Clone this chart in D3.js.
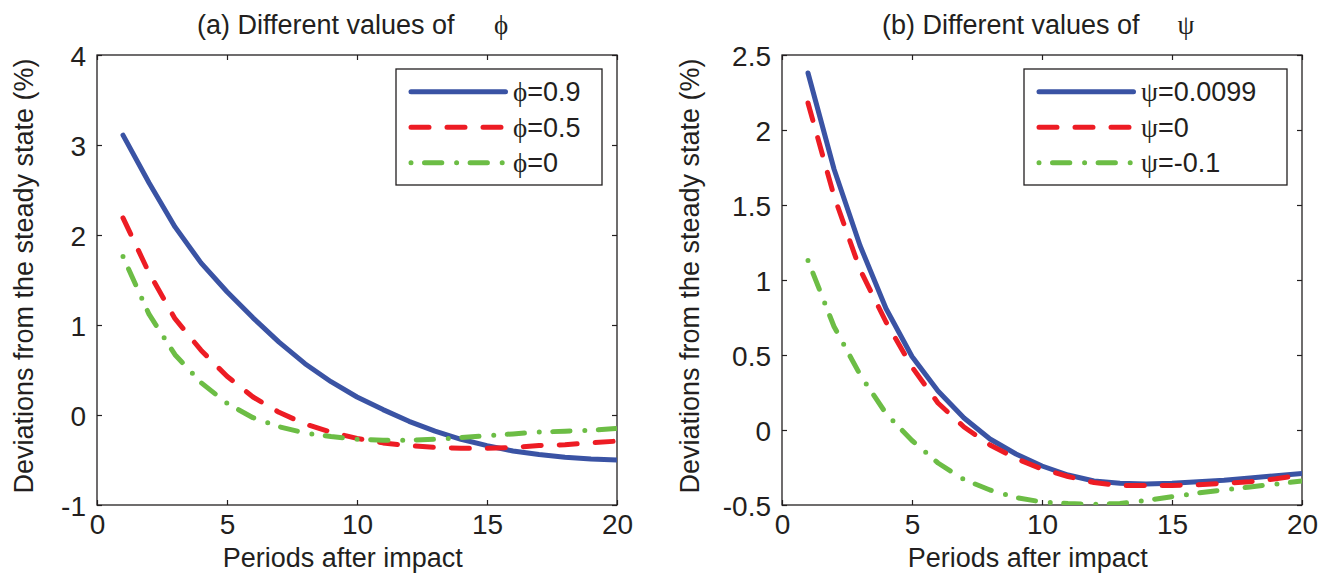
<!DOCTYPE html>
<html>
<head>
<meta charset="utf-8">
<script src="https://cdn.jsdelivr.net/npm/d3@7"></script>
<style>
  body { margin: 0; background: #fff; }
  svg { display: block; font-family: "Liberation Sans", Arial, sans-serif; }
</style>
</head>
<body>
<svg id="chart" width="1333" height="580"></svg>
<script>
// periods after impact
var periods = [1, 2, 3, 4, 5, 6, 7, 8, 9, 10, 11, 12, 13, 14, 15, 16, 17, 18, 19, 20];

// (a) different values of phi
var phi09 = [3.11, 2.58, 2.09, 1.69, 1.37, 1.08, 0.81, 0.57, 0.37, 0.20, 0.06, -0.07, -0.18, -0.27, -0.34, -0.40, -0.44, -0.47, -0.49, -0.50];
var phi05 = [2.19, 1.58, 1.07, 0.72, 0.43, 0.20, 0.03, -0.10, -0.19, -0.26, -0.31, -0.34, -0.36, -0.37, -0.37, -0.36, -0.34, -0.33, -0.31, -0.29];
var phi0 = [1.76, 1.12, 0.67, 0.36, 0.13, -0.03, -0.13, -0.20, -0.24, -0.27, -0.28, -0.28, -0.27, -0.25, -0.23, -0.21, -0.19, -0.18, -0.17, -0.15];

// (b) different values of psi
var psi0099 = [2.38, 1.74, 1.23, 0.81, 0.49, 0.26, 0.08, -0.06, -0.16, -0.24, -0.30, -0.34, -0.355, -0.36, -0.355, -0.345, -0.335, -0.32, -0.305, -0.29];
var psi0 = [2.18, 1.56, 1.07, 0.72, 0.42, 0.18, 0.02, -0.10, -0.19, -0.26, -0.31, -0.35, -0.37, -0.37, -0.37, -0.365, -0.355, -0.345, -0.325, -0.30];
var psiNeg = [1.13, 0.69, 0.37, 0.11, -0.07, -0.22, -0.33, -0.40, -0.45, -0.48, -0.49, -0.495, -0.49, -0.47, -0.445, -0.42, -0.40, -0.38, -0.36, -0.34];

var xTicks = [0, 5, 10, 15, 20];
var yTicksA = [-1, 0, 1, 2, 3, 4];
var yTicksB = [-0.5, 0, 0.5, 1, 1.5, 2, 2.5];

var legendA = ["=0.9", "=0.5", "=0"];
var legendB = ["=0.0099", "=0", "=-0.1"];

var colors = ["#3a53a4", "#ed1c24", "#6cbd45"];
var dashes = [null, "18,18", "0,13.5,17.3,14.8"];

var svg = d3.select("#chart");
var plotTop = 55, plotBottom = 505, fs = 27;

var panels = [
  { left: 97, title: "(a) Different values of", greek: "\u03D5", yDomain: [-1, 4], yTicks: yTicksA,
    series: [phi09, phi05, phi0], labels: legendA, yLabelX: 33, legendW: 206 },
  { left: 782, title: "(b) Different values of", greek: "\u03C8", yDomain: [-0.5, 2.5], yTicks: yTicksB,
    series: [psi0099, psi0, psiNeg], labels: legendB, yLabelX: 699, legendW: 263 }
];

panels.forEach(function (p, pi) {
  var w = 520, h = plotBottom - plotTop;
  var x = d3.scaleLinear().domain([0, 20]).range([0, w]);
  var y = d3.scaleLinear().domain(p.yDomain).range([h, 0]);

  var g = svg.append("g").attr("transform", "translate(" + p.left + "," + plotTop + ")");

  // clip for lines
  g.append("clipPath").attr("id", "clip" + pi)
    .append("rect").attr("width", w).attr("height", h);

  var fmt = function (d) { return String(d); };

  var axB = g.append("g").attr("transform", "translate(0," + h + ")")
    .call(d3.axisBottom(x).tickValues(xTicks).tickSize(-5).tickPadding(0).tickFormat(fmt));
  var axT = g.append("g").call(d3.axisTop(x).tickValues(xTicks).tickSize(-5).tickFormat(""));
  var axL = g.append("g")
    .call(d3.axisLeft(y).tickValues(p.yTicks).tickSize(-5).tickPadding(11).tickFormat(fmt));
  var axR = g.append("g").attr("transform", "translate(" + w + ",0)")
    .call(d3.axisRight(y).tickValues(p.yTicks).tickSize(-5).tickFormat(""));

  [axB, axT, axL, axR].forEach(function (a) {
    a.select(".domain").remove();
    a.selectAll(".tick line").attr("stroke", "#231f20").attr("stroke-width", 1.2);
    a.selectAll(".tick text").attr("fill", "#231f20").style("font-size", "28px")
      .style("font-family", "'Liberation Sans', Arial, sans-serif");
  });
  axB.selectAll(".tick text").attr("dy", null).attr("y", 29);
  axL.selectAll(".tick text").attr("dy", "0.36em");

  // frame
  g.append("rect").attr("width", w).attr("height", h)
    .attr("fill", "none").attr("stroke", "#231f20").attr("stroke-width", 1.3);

  var line = d3.line().x(function (d, i) { return x(periods[i]); }).y(function (d) { return y(d); });

  var lines = g.append("g").attr("clip-path", "url(#clip" + pi + ")");
  p.series.forEach(function (s, si) {
    lines.append("path").datum(s)
      .attr("d", line)
      .attr("fill", "none")
      .attr("stroke", colors[si])
      .attr("stroke-width", 5)
      .attr("stroke-linecap", "round")
      .attr("stroke-linejoin", "round")
      .attr("stroke-dasharray", dashes[si]);
  });

  // legend
  var lg = g.append("g").attr("transform", "translate(" + (w - 15 - p.legendW) + ",14)");
  lg.append("rect").attr("width", p.legendW).attr("height", 116)
    .attr("fill", "#fff").attr("stroke", "#231f20").attr("stroke-width", 1.3);
  p.labels.forEach(function (lab, li) {
    var ry = 22.7 + li * 35.5;
    lg.append("line").attr("x1", 15).attr("x2", 109.5).attr("y1", ry).attr("y2", ry)
      .attr("stroke", colors[li]).attr("stroke-width", 5)
      .attr("stroke-linecap", "round").attr("stroke-dasharray", dashes[li]);
    var t = lg.append("text").attr("x", 117).attr("y", ry + 9.5)
      .attr("fill", "#231f20").style("font-size", fs + "px");
    t.append("tspan").style("font-family", "'Liberation Serif', 'DejaVu Serif', serif").text(p.greek);
    t.append("tspan").text(lab);
  });

  // title
  g.append("text").attr("x", 100).attr("y", -21)
    .attr("fill", "#231f20").style("font-size", fs + "px").text(p.title);
  g.append("text").attr("x", 404).attr("y", -21).attr("text-anchor", "middle")
    .attr("fill", "#231f20").style("font-size", fs + "px")
    .style("font-family", "'Liberation Serif', 'DejaVu Serif', serif").text(p.greek);

  // x label
  g.append("text").attr("x", x(9.45)).attr("y", h + 62).attr("text-anchor", "middle")
    .attr("fill", "#231f20").style("font-size", fs + "px").text("Periods after impact");

  // y label
  svg.append("text")
    .attr("transform", "translate(" + p.yLabelX + "," + (plotTop + h / 2 - 4) + ") rotate(-90)")
    .attr("text-anchor", "middle").attr("fill", "#231f20").style("font-size", fs + "px")
    .text("Deviations from the steady state (%)");
});
</script>
</body>
</html>
